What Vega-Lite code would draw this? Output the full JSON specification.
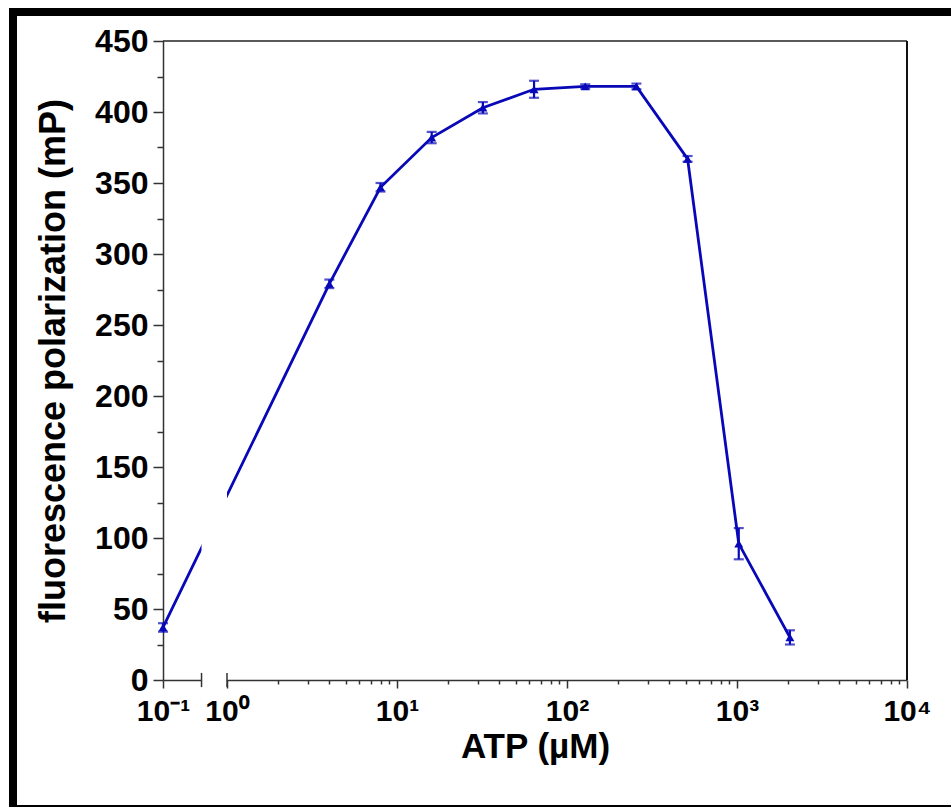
{
  "$schema": "https://vega.github.io/schema/vega-lite/v6.json",
  "autosize": {"type": "none"},
  "padding": {"left": 13, "top": 12, "right": -5, "bottom": -2},
  "width": 943,
  "height": 797,
  "background": "white",
  "config": {
    "view": {"stroke": "black", "strokeWidth": 8, "fill": "white"},
    "font": "Liberation Sans",
    "axis": {
      "grid": false,
      "domainColor": "#333333",
      "domainWidth": 1.5,
      "tickColor": "#333333",
      "tickWidth": 1.5,
      "labelFont": "Liberation Sans",
      "labelFontWeight": "bold",
      "labelColor": "black",
      "titleFont": "Liberation Sans",
      "titleFontWeight": "bold",
      "titleColor": "black",
      "titleFontSize": 35,
      "labelOverlap": false,
      "labelFlush": false,
      "labelBound": false
    }
  },
  "datasets": {
    "pts": [
      {"atp": 0.1, "fp": 37, "err": 3},
      {"atp": 4, "fp": 279, "err": 3},
      {"atp": 8, "fp": 347, "err": 3},
      {"atp": 16, "fp": 382, "err": 4},
      {"atp": 32, "fp": 403, "err": 4},
      {"atp": 64, "fp": 416, "err": 6},
      {"atp": 128, "fp": 418, "err": 1.5},
      {"atp": 256, "fp": 418, "err": 2},
      {"atp": 512, "fp": 367, "err": 2},
      {"atp": 1024, "fp": 96, "err": 11},
      {"atp": 2048, "fp": 30, "err": 5}
    ],
    "breaks": [{"b": 0.4}, {"b": 1}]
  },
  "layer": [
    {
      "data": {"name": "pts"},
      "mark": {"type": "line", "color": "#0808b8", "strokeWidth": 2.8},
      "encoding": {
        "x": {
          "field": "atp", "type": "quantitative", "title": "ATP (µM)",
          "scale": {"type": "log", "domain": [0.1, 1, 10000], "range": [150, 214, 894], "nice": false},
          "axis": {
            "orient": "bottom",
            "offset": -129,
            "title": "ATP (µM)",
            "titlePadding": 3,
            "labelFontSize": 30,
            "labelPadding": 8,
            "values": [0.1, 1, 2, 3, 4, 5, 6, 7, 8, 9, 10, 20, 30, 40, 50, 60, 70, 80, 90, 100, 200, 300, 400, 500, 600, 700, 800, 900, 1000, 2000, 3000, 4000, 5000, 6000, 7000, 8000, 9000, 10000],
            "labelExpr": "datum.value == 0.1 ? '10⁻¹' : datum.value == 1 ? '10⁰' : datum.value == 10 ? '10¹' : datum.value == 100 ? '10²' : datum.value == 1000 ? '10³' : datum.value == 10000 ? '10⁴' : ''",
            "tickSize": {"condition": {"test": "indexof([0.1, 1, 10, 100, 1000, 10000], datum.value) >= 0", "value": 8}, "value": 4}
          }
        },
        "y": {
          "field": "fp", "type": "quantitative", "title": "fluorescence polarization (mP)",
          "scale": {"domain": [0, 450], "range": [668, 29], "nice": false, "zero": false},
          "axis": {
            "orient": "left",
            "offset": -150,
            "title": "fluorescence polarization (mP)",
            "titlePadding": 22,
            "titleFontSize": 36,
            "labelFontSize": 32,
            "labelPadding": 5,
            "values": [0, 25, 50, 75, 100, 125, 150, 175, 200, 225, 250, 275, 300, 325, 350, 375, 400, 425, 450],
            "labelExpr": "datum.value % 50 === 0 ? datum.label : ''",
            "tickSize": {"condition": {"test": "datum.value % 50 === 0", "value": 10}, "value": 6}
          }
        }
      }
    },
    {
      "data": {"values": [{}]},
      "mark": {"type": "rect", "color": "white"},
      "encoding": {
        "x": {"datum": 0.4, "type": "quantitative"},
        "x2": {"datum": 1},
        "y": {"datum": -3, "type": "quantitative"},
        "y2": {"datum": 449}
      }
    },
    {
      "data": {"values": [{}]},
      "mark": {"type": "rule", "color": "#222222", "strokeWidth": 1.5},
      "encoding": {
        "x": {"datum": 0.1, "type": "quantitative"},
        "x2": {"datum": 10000},
        "y": {"datum": 450, "type": "quantitative"}
      }
    },
    {
      "data": {"values": [{}]},
      "mark": {"type": "rule", "color": "#111111", "strokeWidth": 2},
      "encoding": {
        "x": {"datum": 10000, "type": "quantitative"},
        "y": {"datum": 0, "type": "quantitative"},
        "y2": {"datum": 450}
      }
    },
    {
      "data": {"name": "breaks"},
      "mark": {"type": "rule", "color": "#333333", "strokeWidth": 1.5},
      "encoding": {
        "x": {"field": "b", "type": "quantitative", "title": "ATP (µM)"},
        "y": {"datum": -5, "type": "quantitative"},
        "y2": {"datum": 5}
      }
    },
    {
      "data": {"name": "pts"},
      "mark": {"type": "errorbar", "color": "#0808b8", "ticks": {"size": 10, "thickness": 2.2}, "rule": {"strokeWidth": 2.2}},
      "encoding": {
        "x": {"field": "atp", "type": "quantitative", "title": "ATP (µM)"},
        "y": {"field": "fp", "type": "quantitative", "title": "fluorescence polarization (mP)"},
        "yError": {"field": "err"}
      }
    },
    {
      "data": {"name": "pts"},
      "mark": {"type": "point", "shape": "triangle-up", "filled": true, "size": 80, "color": "#0808b8", "opacity": 1},
      "encoding": {
        "x": {"field": "atp", "type": "quantitative", "title": "ATP (µM)"},
        "y": {"field": "fp", "type": "quantitative", "title": "fluorescence polarization (mP)"}
      }
    }
  ]
}
